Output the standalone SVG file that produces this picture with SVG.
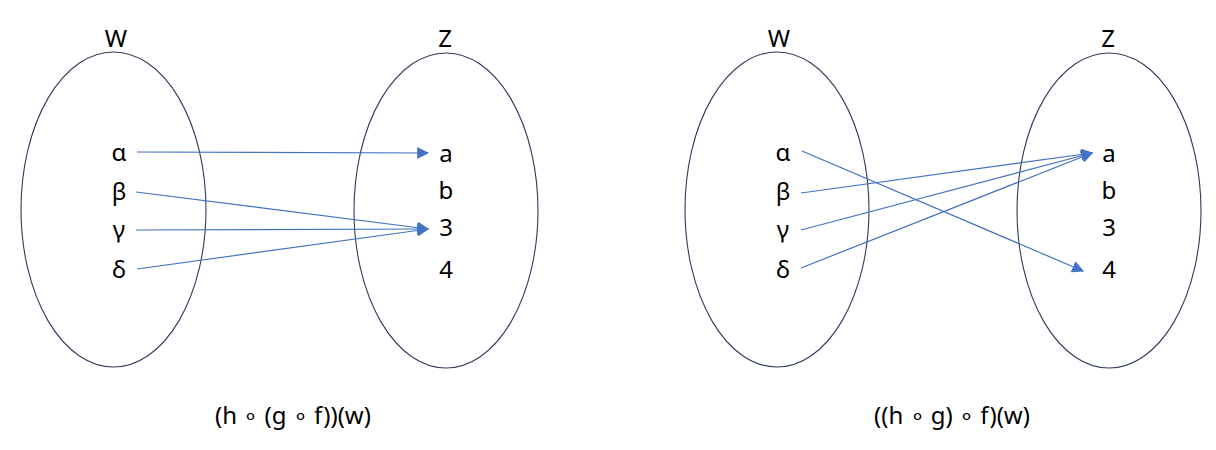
<svg xmlns="http://www.w3.org/2000/svg" width="1216" height="450" viewBox="0 0 1216 450">
<style>
.set{fill:none;stroke:#2f3b5c;stroke-width:1.1}
.t{font-family:"Noto Sans","Open Sans",sans-serif;font-size:24px;fill:#000;text-anchor:middle}
.c{stroke:#4472c4;stroke-width:1.2;fill:none;marker-end:url(#ah)}
</style>
<defs>
<marker id="ah" viewBox="0 0 10 10" refX="9" refY="5" markerWidth="12" markerHeight="12" markerUnits="userSpaceOnUse" orient="auto">
<path d="M0,0 L10,5 L0,10 z" fill="#4472c4"/>
</marker>
</defs>
<rect width="1216" height="450" fill="#fff"/>
<g id="left-W">
<ellipse class="set" cx="113.5" cy="209.5" rx="92.5" ry="157.5"/>
<text class="t" x="116" y="47">W</text>
<text class="t" x="119" y="161">α</text>
<text class="t" x="119" y="200">β</text>
<text class="t" x="119" y="238">γ</text>
<text class="t" x="119" y="278">δ</text>
</g>
<g id="left-Z">
<ellipse class="set" cx="446" cy="210.5" rx="92" ry="157.5"/>
<text class="t" x="445" y="47">Z</text>
<text class="t" x="446" y="162">a</text>
<text class="t" x="446" y="199">b</text>
<text class="t" x="446" y="236">3</text>
<text class="t" x="446" y="278">4</text>
</g>
<g id="right-W">
<ellipse class="set" cx="777" cy="209.5" rx="92" ry="157.5"/>
<text class="t" x="779" y="47">W</text>
<text class="t" x="783" y="161">α</text>
<text class="t" x="783" y="200">β</text>
<text class="t" x="783" y="238">γ</text>
<text class="t" x="783" y="278">δ</text>
</g>
<g id="right-Z">
<ellipse class="set" cx="1109" cy="210.5" rx="92" ry="157.5"/>
<text class="t" x="1108" y="47">Z</text>
<text class="t" x="1109" y="162">a</text>
<text class="t" x="1109" y="199">b</text>
<text class="t" x="1109" y="236">3</text>
<text class="t" x="1109" y="278">4</text>
</g>
<g id="connectors">
<line class="c" x1="137" y1="152" x2="428" y2="153"/>
<line class="c" x1="136" y1="192" x2="428" y2="229"/>
<line class="c" x1="136" y1="230" x2="428" y2="229"/>
<line class="c" x1="137" y1="269" x2="428" y2="229"/>
<line class="c" x1="802" y1="151" x2="1083" y2="271"/>
<line class="c" x1="801" y1="193" x2="1092" y2="153"/>
<line class="c" x1="801" y1="230" x2="1092" y2="153"/>
<line class="c" x1="801" y1="268" x2="1092" y2="153"/>
</g>
<g id="captions">
<text class="t" x="293" y="424">(h ∘ (g ∘ f))(w)</text>
<text class="t" x="952" y="424">((h ∘ g) ∘ f)(w)</text>
</g>
</svg>
